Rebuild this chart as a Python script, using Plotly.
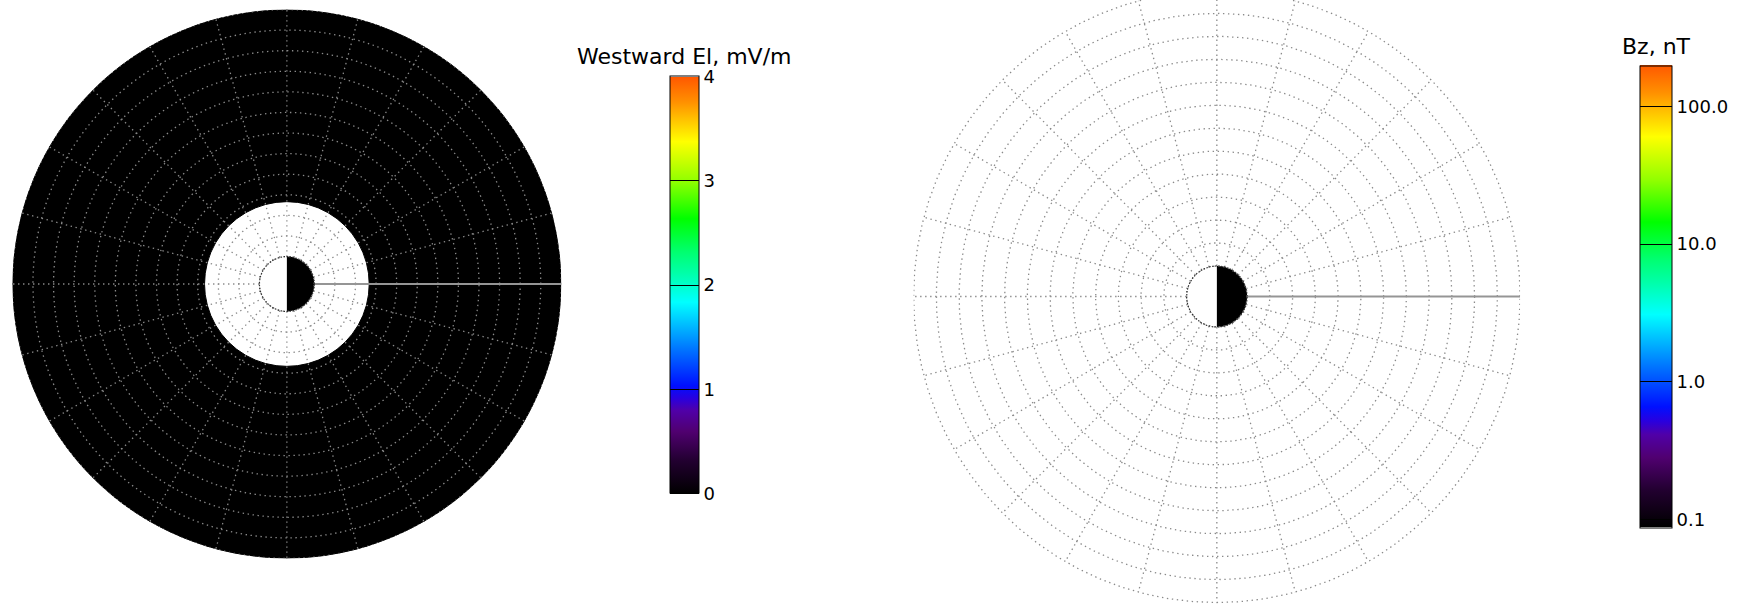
import numpy as np
import plotly.graph_objects as go

W, H = 1762, 606

# ---------------- data ----------------
# grid of the equatorial-plane maps (Earth radii)
grid_circle_radii = [1.0, 1.75, 2.5, 3.25, 4.0, 4.75, 5.5, 6.25, 7.0, 7.75, 8.5, 9.25, 10.0]
grid_spoke_angles = [0, 15, 30, 45, 60, 75, 90, 105, 120, 135, 150, 165,
                     180, 195, 210, 225, 240, 255, 270, 285, 300, 315, 330, 345]
earth_radius = 1.0
map_outer_radius = 10.0
noon_line_angle = 0

# left map: westward electric field (mV/m)
el_sector_centers = [7.5, 22.5, 37.5, 52.5, 67.5, 82.5, 97.5, 112.5, 127.5, 142.5, 157.5, 172.5,
                     187.5, 202.5, 217.5, 232.5, 247.5, 262.5, 277.5, 292.5, 307.5, 322.5, 337.5, 352.5]
el_sector_width = 15.0
el_inner_radius = 3.0
el_outer_radius = 10.0
el_values = [0.0, 0.0, 0.0, 0.0, 0.0, 0.0, 0.0, 0.0, 0.0, 0.0, 0.0, 0.0,
             0.0, 0.0, 0.0, 0.0, 0.0, 0.0, 0.0, 0.0, 0.0, 0.0, 0.0, 0.0]
el_range = [0.0, 4.0]
el_tick_values = [0, 1, 2, 3, 4]
el_tick_labels = ["0", "1", "2", "3", "4"]
el_title = "Westward El, mV/m"

# right map: Bz (nT), log colour scale, no data values in view
bz_range = [0.0878, 198.0]
bz_tick_values = [0.1, 1.0, 10.0, 100.0]
bz_tick_labels = ["0.1", "1.0", "10.0", "100.0"]
bz_title = "Bz, nT"

# ---------------- style ----------------
rainbow = [
    [0.00, "#000000"], [0.08, "#220030"], [0.15, "#500070"], [0.20, "#5000a8"],
    [0.23, "#2800e0"], [0.26, "#0010ff"], [0.35, "#0078ff"], [0.46, "#00ffff"],
    [0.53, "#00ffa8"], [0.58, "#00ff70"], [0.66, "#00ff00"], [0.75, "#90ff00"],
    [0.845, "#ffff00"], [0.90, "#ffc000"], [0.94, "#ff9000"], [1.00, "#ff5800"],
]
GRID = "#8a8a8a"
DOT = "1.4px,3.6px"
GW = 1.3
FONT = "DejaVu Sans"

# pixel geometry
L_CX, L_CY, L_R = 289.5, 284.0, 277.0
R_CX, R_CY, R_R = 1228.0, 296.5, 306.0


def px(x):
    return x / W


def py(y):
    return 1 - y / H


fig = go.Figure()

# ---------- left map (polar) ----------
fig.add_trace(go.Barpolar(
    theta=el_sector_centers,
    r=[el_outer_radius - el_inner_radius] * len(el_values),
    base=el_inner_radius,
    width=el_sector_width,
    marker=dict(
        color=el_values, colorscale=rainbow, cmin=el_range[0], cmax=el_range[1],
        line=dict(color=el_values, colorscale=rainbow, cmin=el_range[0], cmax=el_range[1], width=1),
        showscale=True,
        colorbar=dict(
            x=px(676.5), xanchor="left", xpad=0, y=py(76.5), yanchor="top", ypad=0,
            len=417, lenmode="pixels", thickness=28.5, thicknessmode="pixels",
            outlinecolor="black", outlinewidth=1,
            tickmode="array", tickvals=el_tick_values, ticktext=el_tick_labels,
            ticks="inside", ticklen=29, tickcolor="black", tickwidth=1,
            tickfont=dict(family=FONT, size=18, color="black"),
        ),
    ),
    subplot="polar", showlegend=False, hoverinfo="skip",
))
# earth night half
fig.add_trace(go.Barpolar(
    theta=[0], r=[earth_radius], base=0, width=180,
    marker=dict(color="black", line=dict(width=0)),
    subplot="polar", showlegend=False, hoverinfo="skip",
))

circ_t = np.linspace(0, 360, 721)
for rr in grid_circle_radii:
    fig.add_trace(go.Scatterpolar(
        r=np.full_like(circ_t, rr), theta=circ_t, mode="lines",
        line=dict(color=GRID, width=GW, dash=DOT),
        subplot="polar", showlegend=False, hoverinfo="skip"))
sr, st = [], []
for a in grid_spoke_angles:
    if a == noon_line_angle:
        continue
    sr += [earth_radius, map_outer_radius, None]
    st += [a, a, None]
fig.add_trace(go.Scatterpolar(
    r=sr, theta=st, mode="lines", line=dict(color=GRID, width=GW, dash=DOT),
    subplot="polar", showlegend=False, hoverinfo="skip"))
fig.add_trace(go.Scatterpolar(
    r=[earth_radius, map_outer_radius], theta=[noon_line_angle, noon_line_angle], mode="lines",
    line=dict(color="#959595", width=2),
    subplot="polar", showlegend=False, hoverinfo="skip"))
fig.add_trace(go.Scatterpolar(
    r=np.full_like(circ_t, earth_radius), theta=circ_t, mode="lines",
    line=dict(color="#303030", width=1.2, dash="1.5px,1.5px"),
    subplot="polar", showlegend=False, hoverinfo="skip"))

# ---------- right map (cartesian) ----------
tt = np.radians(circ_t)
half = np.radians(np.linspace(-90, 90, 181))
fig.add_trace(go.Scatter(
    x=np.concatenate([earth_radius * np.cos(half), [0, 0]]),
    y=np.concatenate([earth_radius * np.sin(half), [earth_radius, -earth_radius]]),
    fill="toself", fillcolor="black", mode="lines", line=dict(width=0, color="black"),
    xaxis="x", yaxis="y", showlegend=False, hoverinfo="skip"))
for rr in grid_circle_radii:
    fig.add_trace(go.Scatter(
        x=rr * np.cos(tt), y=rr * np.sin(tt), mode="lines",
        line=dict(color=GRID, width=GW, dash=DOT),
        xaxis="x", yaxis="y", showlegend=False, hoverinfo="skip"))
sx, sy = [], []
for a in grid_spoke_angles:
    if a == noon_line_angle:
        continue
    ar = np.radians(a)
    sx += [earth_radius * np.cos(ar), map_outer_radius * np.cos(ar), None]
    sy += [earth_radius * np.sin(ar), map_outer_radius * np.sin(ar), None]
fig.add_trace(go.Scatter(
    x=sx, y=sy, mode="lines", line=dict(color=GRID, width=GW, dash=DOT),
    xaxis="x", yaxis="y", showlegend=False, hoverinfo="skip"))
na = np.radians(noon_line_angle)
fig.add_trace(go.Scatter(
    x=[earth_radius * np.cos(na), map_outer_radius * np.cos(na)],
    y=[earth_radius * np.sin(na), map_outer_radius * np.sin(na)],
    mode="lines", line=dict(color="#959595", width=2),
    xaxis="x", yaxis="y", showlegend=False, hoverinfo="skip"))
fig.add_trace(go.Scatter(
    x=earth_radius * np.cos(tt), y=earth_radius * np.sin(tt), mode="lines",
    line=dict(color="#303030", width=1.2, dash="1.5px,1.5px"),
    xaxis="x", yaxis="y", showlegend=False, hoverinfo="skip"))

# Bz colour bar
lg_min, lg_max = np.log10(bz_range[0]), np.log10(bz_range[1])
fig.add_trace(go.Scatter(
    x=[None], y=[None], mode="markers",
    marker=dict(
        color=[lg_min], colorscale=rainbow, cmin=lg_min, cmax=lg_max, showscale=True,
        colorbar=dict(
            x=px(1655.5), xanchor="left", xpad=0, y=py(65.5), yanchor="top", ypad=0,
            len=462, lenmode="pixels", thickness=32, thicknessmode="pixels",
            outlinecolor="black", outlinewidth=1,
            tickmode="array", tickvals=list(np.log10(bz_tick_values)), ticktext=bz_tick_labels,
            ticks="inside", ticklen=32, tickcolor="black", tickwidth=1,
            tickfont=dict(family=FONT, size=18, color="black"),
        ),
    ),
    xaxis="x", yaxis="y", showlegend=False, hoverinfo="skip"))

unit = R_R / map_outer_radius
fig.update_layout(
    width=W, height=H, autosize=False, margin=dict(l=0, r=0, t=0, b=0, pad=0),
    paper_bgcolor="white", plot_bgcolor="rgba(0,0,0,0)",
    polar=dict(
        domain=dict(x=[px(L_CX - L_R), px(L_CX + L_R)], y=[py(L_CY + L_R), py(L_CY - L_R)]),
        bgcolor="rgba(0,0,0,0)", barmode="overlay",
        radialaxis=dict(range=[0, map_outer_radius], visible=False),
        angularaxis=dict(visible=False, rotation=0, direction="counterclockwise"),
    ),
    xaxis=dict(domain=[px(R_CX - R_R), px(R_CX + R_R)], range=[-map_outer_radius, map_outer_radius],
               visible=False, fixedrange=True),
    yaxis=dict(domain=[0, 1], range=[-(H - R_CY) / unit, R_CY / unit], visible=False, fixedrange=True),
    annotations=[
        dict(text=el_title, x=px(690.75), y=py(57), xref="paper", yref="paper",
             xanchor="center", yanchor="middle", showarrow=False,
             font=dict(family=FONT, size=22, color="black")),
        dict(text=bz_title, x=px(1671.5), y=py(46.5), xref="paper", yref="paper",
             xanchor="center", yanchor="middle", showarrow=False,
             font=dict(family=FONT, size=22, color="black")),
    ],
)

fig.write_html("out.html", config={"responsive": False})
